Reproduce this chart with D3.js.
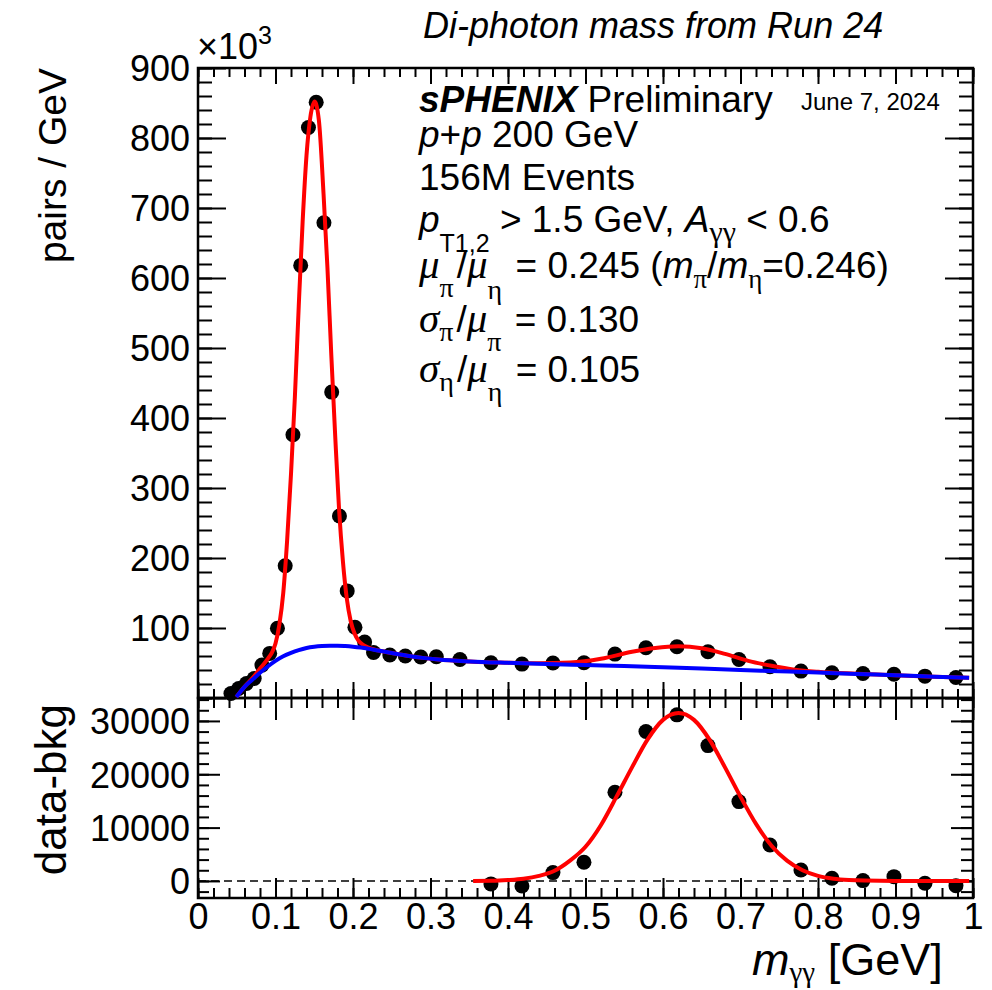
<!DOCTYPE html>
<html lang="en">
<head>
<meta charset="UTF-8"/>
<title>Di-photon mass from Run 24</title>
<script src="https://d3js.org/d3.v7.min.js"></script>
<style>
  body { margin: 0; background: #fff; }
  svg { display: block; font-family: "Liberation Sans", Arial, Helvetica, sans-serif; }
  text { white-space: pre; }
</style>
</head>
<body>
<script>
// upper panel: measured points, mass in GeV, pairs/GeV in units of 10^3
var massTop = [0.0425, 0.0525, 0.0625, 0.0725, 0.0825, 0.0925,
               0.1025, 0.1125, 0.1225, 0.1325, 0.1425, 0.1525, 0.1625, 0.1725, 0.1825, 0.1925, 0.2025,
               0.215, 0.2265, 0.2475, 0.2675, 0.2875, 0.3075,
               0.338, 0.378, 0.418, 0.458, 0.498, 0.538, 0.578, 0.618, 0.658, 0.698,
               0.738, 0.778, 0.818, 0.858, 0.898, 0.938, 0.978];
var pairsTop = [6.4, 13.5, 20.7, 27.9, 47, 63.7,
                99.6, 189, 376, 618, 815, 851, 679, 437, 260, 153, 101,
                80, 65, 61.5, 60, 58.5, 59,
                55.1, 50.3, 48.4, 50, 50.3, 62.7, 71.8, 73.2, 66, 55.1,
                44.6, 38.4, 36, 35, 34, 31.2, 29.3];

// total fit (red)
var fitX = [0.0495, 0.06, 0.07, 0.08, 0.09, 0.095, 0.10, 0.105, 0.11, 0.115, 0.12, 0.125, 0.13, 0.135,
            0.14, 0.145, 0.1505, 0.156, 0.162, 0.167, 0.172, 0.177, 0.182, 0.187, 0.192, 0.197, 0.202,
            0.207, 0.213, 0.22, 0.23, 0.25, 0.27, 0.29, 0.31, 0.35, 0.40, 0.44, 0.48, 0.52, 0.56, 0.59,
            0.62, 0.65, 0.68, 0.71, 0.74, 0.77, 0.80, 0.85, 0.90, 0.95, 0.995];
var fitTotal = [1.5, 16, 28, 42, 56, 64, 78, 105, 150, 225, 320, 430, 560, 680,
                775, 830, 852, 825, 720, 615, 490, 375, 270, 195, 142, 110, 92,
                82, 76, 72, 68.5, 64.3, 60.5, 57.3, 55, 52.3, 50.3, 49.5, 50.6, 56, 66, 71.5,
                73.8, 71, 63, 53, 46, 40.5, 37.4, 34.6, 32.4, 30.5, 28.8];

// background fit (blue)
var bkgX = [0.0495, 0.06, 0.07, 0.08, 0.09, 0.10, 0.11, 0.12, 0.13, 0.14, 0.15, 0.16, 0.17, 0.18,
            0.19, 0.20, 0.21, 0.22, 0.23, 0.25, 0.27, 0.29, 0.31, 0.35, 0.40, 0.45, 0.50, 0.55,
            0.60, 0.65, 0.70, 0.75, 0.80, 0.85, 0.90, 0.95, 0.995];
var bkgY = [1.5, 16, 26, 36, 45, 53, 59.5, 64.5, 68.5, 71.5, 73.3, 74.3, 74.7, 74.7,
            74.2, 73.3, 72, 70.3, 68.3, 64.3, 60.5, 57.3, 55, 52.3, 50.2, 48.5, 47, 45.6,
            43.8, 42, 40, 38.2, 36.3, 34.4, 32.4, 30.5, 28.8];

// lower panel: data minus background
var massBot = [0.378, 0.418, 0.458, 0.498, 0.538, 0.578, 0.618, 0.658, 0.698, 0.738, 0.778, 0.818,
               0.858, 0.898, 0.938, 0.978];
var diffBot = [-560, -940, 1560, 3510, 16640, 28010, 31140, 25380, 14880, 6750, 2060, 500,
               60, 800, -430, -880];
var etaFitX = [0.355, 0.38, 0.40, 0.42, 0.44, 0.46, 0.48, 0.50, 0.52, 0.54, 0.56, 0.58, 0.60, 0.62,
               0.64, 0.66, 0.68, 0.70, 0.72, 0.74, 0.76, 0.78, 0.80, 0.82, 0.84, 0.86, 0.90, 0.995];
var etaFitY = [0, 30, 170, 420, 950, 1900, 3800, 6400, 10500, 15800, 21300, 26500, 30200, 31500,
               30200, 26500, 21300, 15800, 10700, 6600, 3800, 2000, 950, 420, 170, 60, 0, 0];

var xTicks = [0, 0.1, 0.2, 0.3, 0.4, 0.5, 0.6, 0.7, 0.8, 0.9, 1];
var xTickLabels = ["0", "0.1", "0.2", "0.3", "0.4", "0.5", "0.6", "0.7", "0.8", "0.9", "1"];
var yTopTicks = [0, 100, 200, 300, 400, 500, 600, 700, 800, 900];
var yTopLabels = ["", "100", "200", "300", "400", "500", "600", "700", "800", "900"];
var yBotTicks = [0, 10000, 20000, 30000];
var yBotLabels = ["0", "10000", "20000", "30000"];

var w = 992, h = 990;
var padLeft = 198, padRight = 973, padTop = 68, padMid = 698, padBottom = 898;
var serif = "'Liberation Serif', 'Times New Roman', serif";

var svg = d3.select("body").append("svg")
    .attr("width", w)
    .attr("height", h);

var x = d3.scaleLinear().domain([0, 1]).range([padLeft, padRight]);
var yTop = d3.scaleLinear().domain([0, 900]).range([padMid, padTop]);
var yBot = d3.scaleLinear().domain([-3200, 34300]).range([padBottom, padMid]);

var xMinor = d3.range(0, 1.001, 0.02);
var yTopMinor = d3.range(0, 901, 20);
var yBotMinor = d3.range(-2000, 34001, 2000);

// ticks drawn inward, ROOT style
function ticks(axis, scale, major, minor, majLen, minLen, translate, labels, pad) {
    var g = svg.append("g").attr("transform", translate);
    g.append("g").call(axis(scale).tickValues(minor).tickSize(-minLen).tickFormat(""));
    g.append("g").call(axis(scale).tickValues(major).tickSize(-majLen).tickPadding(pad || 0)
        .tickFormat(function(d) { return labels ? labels[major.indexOf(d)] : ""; }));
    g.selectAll(".domain").remove();
    g.selectAll("line").attr("stroke", "#000").attr("stroke-width", 2);
    g.selectAll("text")
        .attr("font-size", 36)
        .attr("font-family", "'Liberation Sans', Arial, sans-serif")
        .attr("fill", "#000");
    return g;
}

// upper panel axes
ticks(d3.axisLeft, yTop, yTopTicks, yTopMinor, 28, 14, "translate(" + padLeft + ",0)", yTopLabels, 8)
    .selectAll("text").attr("dy", "0.36em");
ticks(d3.axisRight, yTop, yTopTicks, yTopMinor, 28, 14, "translate(" + padRight + ",0)");
ticks(d3.axisTop, x, xTicks, xMinor, 16, 9, "translate(0," + padTop + ")");
ticks(d3.axisBottom, x, xTicks, xMinor, 16, 9, "translate(0," + padMid + ")");

// lower panel axes
ticks(d3.axisLeft, yBot, yBotTicks, yBotMinor, 22, 11, "translate(" + padLeft + ",0)", yBotLabels, 8)
    .selectAll("text").attr("dy", "0.36em");
ticks(d3.axisRight, yBot, yBotTicks, yBotMinor, 22, 12, "translate(" + padRight + ",0)");
ticks(d3.axisTop, x, xTicks, xMinor, 22, 10, "translate(0," + padMid + ")");
ticks(d3.axisBottom, x, xTicks, xMinor, 20, 10, "translate(0," + padBottom + ")", xTickLabels, 5);

// frames
svg.append("rect")
    .attr("x", padLeft).attr("y", padTop)
    .attr("width", padRight - padLeft).attr("height", padMid - padTop)
    .attr("fill", "none").attr("stroke", "#000").attr("stroke-width", 2.5);
svg.append("rect")
    .attr("x", padLeft).attr("y", padMid)
    .attr("width", padRight - padLeft).attr("height", padBottom - padMid)
    .attr("fill", "none").attr("stroke", "#000").attr("stroke-width", 2.5);

// zero line in the lower panel
svg.append("line")
    .attr("x1", x(0)).attr("x2", x(1))
    .attr("y1", yBot(0)).attr("y2", yBot(0))
    .attr("stroke", "#000").attr("stroke-width", 1.4)
    .attr("stroke-dasharray", "8,5");

// upper data
svg.append("g").selectAll("circle")
    .data(d3.zip(massTop, pairsTop))
    .enter()
    .append("circle")
    .attr("cx", function(d) { return x(d[0]); })
    .attr("cy", function(d) { return yTop(d[1]); })
    .attr("r", 7.5)
    .attr("fill", "#000");

var lineTop = d3.line()
    .x(function(d) { return x(d[0]); })
    .y(function(d) { return yTop(d[1]); })
    .curve(d3.curveMonotoneX);

svg.append("path")
    .attr("d", lineTop(d3.zip(fitX, fitTotal)))
    .attr("fill", "none").attr("stroke", "#ff0000").attr("stroke-width", 4);

svg.append("path")
    .attr("d", lineTop(d3.zip(bkgX, bkgY)))
    .attr("fill", "none").attr("stroke", "#0000ff").attr("stroke-width", 4);

// lower data
svg.append("g").selectAll("circle")
    .data(d3.zip(massBot, diffBot))
    .enter()
    .append("circle")
    .attr("cx", function(d) { return x(d[0]); })
    .attr("cy", function(d) { return yBot(d[1]); })
    .attr("r", 7.5)
    .attr("fill", "#000");

var lineBot = d3.line()
    .x(function(d) { return x(d[0]); })
    .y(function(d) { return yBot(d[1]); })
    .curve(d3.curveMonotoneX);

svg.append("path")
    .attr("d", lineBot(d3.zip(etaFitX, etaFitY)))
    .attr("fill", "none").attr("stroke", "#ff0000").attr("stroke-width", 4);

// text with sub/superscripts
function rich(px, py, parts, size) {
    var t = svg.append("text")
        .attr("x", px).attr("y", py)
        .attr("font-size", size)
        .attr("fill", "#000");
    var cur = 0;
    parts.forEach(function(p) {
        var s = t.append("tspan").text(p.t);
        var off = p.sub || 0;
        if (off - cur !== 0) s.attr("dy", off - cur);
        cur = off;
        if (p.dx) s.attr("dx", p.dx);
        if (p.i) s.attr("font-style", "italic");
        if (p.b) s.attr("font-weight", "bold");
        if (p.serif) s.attr("font-family", serif);
        if (p.size) s.attr("font-size", p.size);
    });
    return t;
}

rich(423, 38, [{t: "Di-photon mass from Run 24", i: true}], 36);
rich(197, 59, [{t: "\u00d710"}, {t: "3", sub: -15, size: 25}], 36);

rich(419, 112, [{t: "sPHENIX", i: true, b: true}, {t: " Preliminary"}], 37);
rich(801, 110, [{t: "June 7, 2024"}], 24);
rich(419, 147, [{t: "p", i: true}, {t: "+"}, {t: "p", i: true}, {t: " 200 GeV"}], 37);
rich(419, 190, [{t: "156M Events"}], 37);
rich(419, 232, [{t: "p", i: true}, {t: "T1,2", sub: 20, size: 25}, {t: " > 1.5 GeV, "},
    {t: "A", i: true}, {t: "\u03b3\u03b3", serif: true, sub: 10, size: 30}, {t: " < 0.6"}], 37);
rich(419, 278, [{t: "\u03bc", i: true, serif: true, size: 41}, {t: "\u03c0", serif: true, sub: 19, size: 28},
    {t: "/", dx: 3}, {t: "\u03bc", i: true, serif: true, size: 41}, {t: "\u03b7", serif: true, sub: 21, size: 28},
    {t: " = 0.245 (", dx: 3}, {t: "m", i: true}, {t: "\u03c0", serif: true, sub: 10, size: 27},
    {t: "/"}, {t: "m", i: true}, {t: "\u03b7", serif: true, sub: 10, size: 27}, {t: "=0.246)"}], 37);
rich(419, 332, [{t: "\u03c3", i: true, serif: true, size: 41}, {t: "\u03c0", serif: true, sub: 9, size: 28},
    {t: "/", dx: 3}, {t: "\u03bc", i: true, serif: true, size: 41}, {t: "\u03c0", serif: true, sub: 19, size: 28},
    {t: " = 0.130", dx: 3}], 37);
rich(419, 382, [{t: "\u03c3", i: true, serif: true, size: 41}, {t: "\u03b7", serif: true, sub: 9, size: 28},
    {t: "/", dx: 3}, {t: "\u03bc", i: true, serif: true, size: 41}, {t: "\u03b7", serif: true, sub: 19, size: 28},
    {t: " = 0.105", dx: 3}], 37);

// axis titles
rich(752, 975, [{t: "m", i: true}, {t: "\u03b3\u03b3", serif: true, sub: 7, size: 29}, {t: " [GeV]"}], 45);

svg.append("text")
    .attr("transform", "translate(66," + padTop + ") rotate(-90)")
    .attr("text-anchor", "end")
    .attr("font-size", 39)
    .text("pairs / GeV");

svg.append("text")
    .attr("transform", "translate(66," + (padMid + 6) + ") rotate(-90)")
    .attr("text-anchor", "end")
    .attr("font-size", 44)
    .text("data-bkg");
</script>
</body>
</html>
